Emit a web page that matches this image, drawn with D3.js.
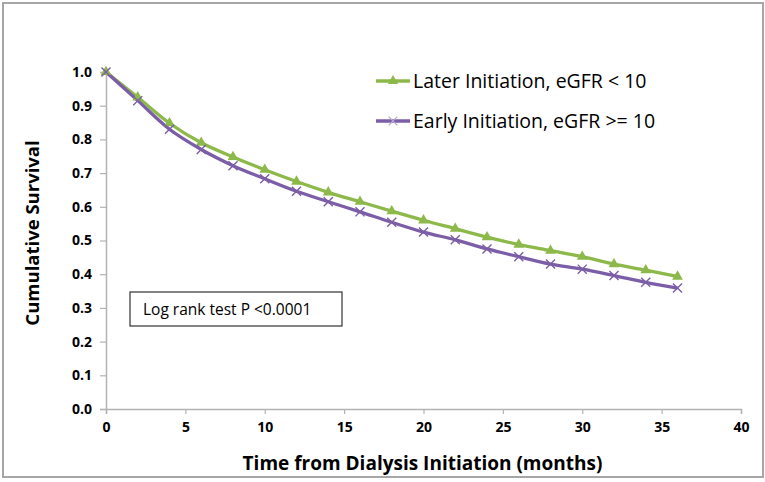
<!DOCTYPE html>
<html>
<head>
<meta charset="utf-8">
<script src="https://cdn.jsdelivr.net/npm/d3@7"></script>
<style>
  body { margin: 0; background: #fff; }
  text { font-family: "Open Sans", "Noto Sans", sans-serif; }
</style>
</head>
<body>
<script>
// chart values
var months = [0, 2, 4, 6, 8, 10, 12, 14, 16, 18, 20, 22, 24, 26, 28, 30, 32, 34, 36];
var laterInit = [1.0, 0.925, 0.848, 0.79, 0.748, 0.71, 0.675, 0.643, 0.615, 0.587, 0.56, 0.535, 0.51, 0.488, 0.47, 0.452, 0.43, 0.412, 0.393];
var earlyInit = [1.0, 0.915, 0.83, 0.77, 0.722, 0.683, 0.646, 0.615, 0.585, 0.554, 0.525, 0.502, 0.475, 0.452, 0.43, 0.415, 0.396, 0.376, 0.359];
var seriesNames = ["Later Initiation, eGFR < 10", "Early Initiation, eGFR >= 10"];
var xTicks = [0, 5, 10, 15, 20, 25, 30, 35, 40];
var yTicks = [0, 0.1, 0.2, 0.3, 0.4, 0.5, 0.6, 0.7, 0.8, 0.9, 1.0];

var W = 765, H = 482;
var margin = {left: 106, right: 24, top: 72, bottom: 73};

var svg = d3.select("body").append("svg")
  .attr("width", W)
  .attr("height", H);

// outer frame
svg.append("rect")
  .attr("x", 3).attr("y", 3)
  .attr("width", 760).attr("height", 474)
  .attr("fill", "#fff")
  .attr("stroke", "#a6a6a6")
  .attr("stroke-width", 2);

var x = d3.scaleLinear().domain([0, 40]).range([margin.left, W - margin.right]);
var y = d3.scaleLinear().domain([0, 1]).range([H - margin.bottom, margin.top]);

// axes
var xAxis = svg.append("g")
  .attr("transform", "translate(0," + y(0) + ")")
  .call(d3.axisBottom(x).tickValues(xTicks).tickSize(5).tickPadding(8).tickFormat(d3.format("d")));
var yAxis = svg.append("g")
  .attr("transform", "translate(" + x(0) + ",0)")
  .call(d3.axisLeft(y).tickValues(yTicks).tickSize(6).tickPadding(8).tickFormat(d3.format(".1f")));

[xAxis, yAxis].forEach(function(ax){
  ax.select(".domain").attr("stroke", "#b3b3b3").attr("stroke-width", 1.5);
  ax.selectAll(".tick line").attr("stroke", "#b3b3b3").attr("stroke-width", 1.2);
  ax.selectAll(".tick text")
    .attr("fill", "#000")
    .style("font-size", "14px")
    .style("font-weight", "bold");
});

// axis titles
svg.append("text")
  .attr("x", x(20) - 1).attr("y", 470)
  .attr("text-anchor", "middle")
  .style("font-size", "19px").style("font-weight", "bold")
  .text("Time from Dialysis Initiation (months)");

svg.append("text")
  .attr("transform", "translate(39," + 233 + ") rotate(-90)")
  .attr("text-anchor", "middle")
  .style("font-size", "18.5px").style("font-weight", "bold")
  .text("Cumulative Survival");

var colors = ["#8db84a", "#7b5ea7"];
var seriesData = [laterInit, earlyInit];

var line = d3.line()
  .x(function(d, i){ return x(months[i]); })
  .y(function(d){ return y(d); })
  .curve(d3.curveMonotoneX);

seriesData.forEach(function(vals, s){
  svg.append("path")
    .datum(vals)
    .attr("fill", "none")
    .attr("stroke", colors[s])
    .attr("stroke-width", 3.3)
    .attr("d", line);
});

// markers: triangles for later, x marks for early
svg.append("g").selectAll("path")
  .data(laterInit)
  .enter().append("path")
  .attr("transform", function(d, i){ return "translate(" + x(months[i]) + "," + y(d) + ")"; })
  .attr("d", d3.symbol().type(d3.symbolTriangle).size(50))
  .attr("fill", colors[0]);

svg.append("g").selectAll("path")
  .data(earlyInit)
  .enter().append("path")
  .attr("transform", function(d, i){ return "translate(" + x(months[i]) + "," + y(d) + ")"; })
  .attr("d", d3.symbol().type(d3.symbolTimes).size(55))
  .attr("fill", "none")
  .attr("stroke", colors[1])
  .attr("stroke-width", 1.4);

// legend
var legend = svg.append("g");
seriesNames.forEach(function(name, s){
  var ly = 81 + s * 40;
  legend.append("line")
    .attr("x1", 376).attr("x2", 410)
    .attr("y1", ly).attr("y2", ly)
    .attr("stroke", colors[s]).attr("stroke-width", 3.3);
  if (s === 0) {
    legend.append("path")
      .attr("transform", "translate(393," + ly + ")")
      .attr("d", d3.symbol().type(d3.symbolTriangle).size(45))
      .attr("fill", colors[0]);
  } else {
    legend.append("path")
      .attr("transform", "translate(393," + ly + ")")
      .attr("d", d3.symbol().type(d3.symbolTimes).size(50))
      .attr("fill", "none")
      .attr("stroke", "#b7a6d0").attr("stroke-width", 1.2);
  }
  legend.append("text")
    .attr("x", 413).attr("y", ly + 7)
    .style("font-size", "19.5px")
    .attr("fill", "#000")
    .text(name);
});

// annotation box
svg.append("rect")
  .attr("x", 130).attr("y", 292)
  .attr("width", 212).attr("height", 34)
  .attr("fill", "#fff")
  .attr("stroke", "#333").attr("stroke-width", 1.2);
svg.append("text")
  .attr("x", 143).attr("y", 315)
  .style("font-size", "15.5px")
  .text("Log rank test P <0.0001");
</script>
</body>
</html>
